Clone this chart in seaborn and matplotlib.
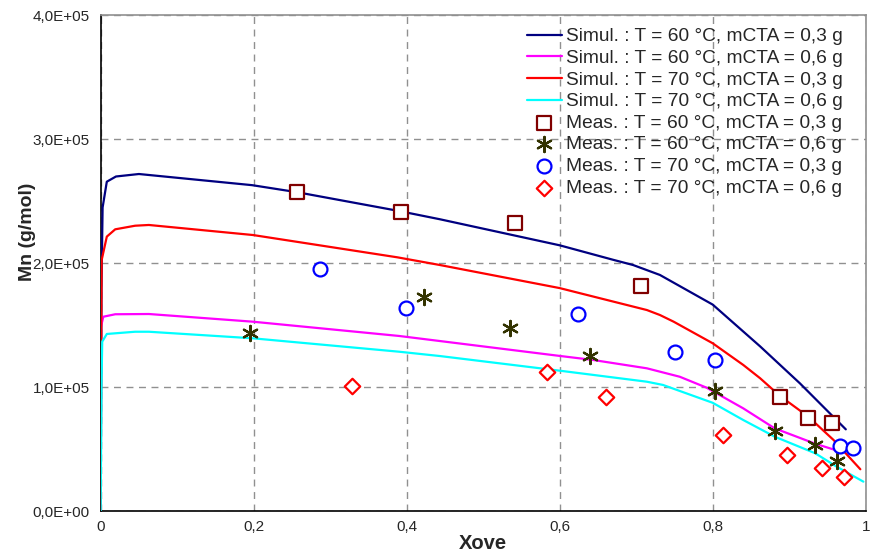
import matplotlib
matplotlib.use("Agg")
import matplotlib.pyplot as plt
import seaborn as sns
import pandas as pd
from matplotlib.ticker import FuncFormatter, FixedLocator

# ---------------- data ----------------
sim60_03_x = [0, 0.001, 0.0025, 0.008, 0.02, 0.05, 0.198, 0.257, 0.388, 0.4435, 0.6, 0.67, 0.696, 0.731, 0.8, 0.862, 0.914, 0.974]
sim60_03_y = [0, 1.8e5, 2.45e5, 2.658e5, 2.70e5, 2.72e5, 2.63e5, 2.573e5, 2.424e5, 2.355e5, 2.145e5, 2.028e5, 1.986e5, 1.906e5, 1.667e5, 1.33e5, 1.032e5, 0.661e5]

sim60_06_x = [0, 0.0004, 0.0034, 0.019, 0.063, 0.199, 0.39, 0.4435, 0.6, 0.644, 0.714, 0.757, 0.792, 0.84, 0.881, 0.934, 0.965]
sim60_06_y = [0, 1.489e5, 1.569e5, 1.589e5, 1.591e5, 1.529e5, 1.414e5, 1.373e5, 1.253e5, 1.22e5, 1.153e5, 1.085e5, 0.997e5, 0.83e5, 0.669e5, 0.545e5, 0.485e5]

sim70_03_x = [0, 0.0005, 0.0013, 0.008, 0.019, 0.045, 0.063, 0.199, 0.388, 0.4435, 0.6, 0.627, 0.714, 0.731, 0.749, 0.8, 0.84, 0.862, 0.888, 0.925, 0.958, 0.993]
sim70_03_y = [0, 1.2e5, 2.027e5, 2.215e5, 2.274e5, 2.303e5, 2.309e5, 2.228e5, 2.048e5, 1.986e5, 1.80e5, 1.758e5, 1.623e5, 1.583e5, 1.529e5, 1.355e5, 1.18e5, 1.073e5, 0.93e5, 0.763e5, 0.575e5, 0.339e5]

sim70_06_x = [0, 0.001, 0.002, 0.008, 0.045, 0.063, 0.199, 0.39, 0.4435, 0.6, 0.627, 0.714, 0.735, 0.8, 0.84, 0.881, 0.934, 0.962, 0.997]
sim70_06_y = [0, 1.0e5, 1.368e5, 1.43e5, 1.448e5, 1.448e5, 1.395e5, 1.287e5, 1.252e5, 1.134e5, 1.113e5, 1.045e5, 1.019e5, 0.875e5, 0.736e5, 0.602e5, 0.468e5, 0.36e5, 0.239e5]

meas60_03_x = [0.256, 0.392, 0.541, 0.706, 0.888, 0.925, 0.956]
meas60_03_y = [2.573e5, 2.414e5, 2.323e5, 1.819e5, 0.924e5, 0.752e5, 0.715e5]

meas60_06_x = [0.195, 0.423, 0.535, 0.639, 0.803, 0.881, 0.934, 0.962]
meas60_06_y = [1.440e5, 1.726e5, 1.478e5, 1.252e5, 0.968e5, 0.648e5, 0.535e5, 0.408e5]

meas70_03_x = [0.287, 0.399, 0.624, 0.751, 0.803, 0.967, 0.983]
meas70_03_y = [1.954e5, 1.640e5, 1.589e5, 1.282e5, 1.218e5, 0.527e5, 0.508e5]

meas70_06_x = [0.328, 0.583, 0.660, 0.813, 0.897, 0.943, 0.972]
meas70_06_y = [1.010e5, 1.126e5, 0.922e5, 0.615e5, 0.452e5, 0.347e5, 0.279e5]

sim_labels = ["Simul. : T = 60 °C, mCTA = 0,3 g",
              "Simul. : T = 60 °C, mCTA = 0,6 g",
              "Simul. : T = 70 °C, mCTA = 0,3 g",
              "Simul. : T = 70 °C, mCTA = 0,6 g"]
meas_labels = ["Meas. : T = 60 °C, mCTA = 0,3 g",
               "Meas. : T = 60 °C, mCTA = 0,6 g",
               "Meas. : T = 70 °C, mCTA = 0,3 g",
               "Meas. : T = 70 °C, mCTA = 0,6 g"]

x_ticks = [0, 0.2, 0.4, 0.6, 0.8, 1.0]
y_ticks = [0, 1e5, 2e5, 3e5, 4e5]

# ---------------- style ----------------
sns.set_theme(style="white")
plt.rcParams["font.family"] = ["Liberation Sans", "DejaVu Sans"]

fig = plt.figure(figsize=(8.71, 5.58), dpi=100)
ax = fig.add_axes([0.1156, 0.0837, 0.8783, 0.8889])

sim_series = [(sim60_03_x, sim60_03_y, "#000080"),
              (sim60_06_x, sim60_06_y, "#FF00FF"),
              (sim70_03_x, sim70_03_y, "#FF0000"),
              (sim70_06_x, sim70_06_y, "#00FFFF")]
for (xs, ys, c), lab in zip(sim_series, sim_labels):
    df = pd.DataFrame({"x": xs, "y": ys})
    sns.lineplot(data=df, x="x", y="y", ax=ax, color=c, lw=1.6,
                 sort=False, estimator=None, label=lab, zorder=3)

meas_series = [(meas60_03_x, meas60_03_y, "#800000", "s", 95, "white"),
               (meas60_06_x, meas60_06_y, "#333300", (6, 2, 0), 120, "#333300"),
               (meas70_03_x, meas70_03_y, "#0000FF", "o", 100, "white"),
               (meas70_06_x, meas70_06_y, "#FF0000", "D", 62, "white")]
for (xs, ys, c, m, s, fc), lab in zip(meas_series, meas_labels):
    df = pd.DataFrame({"x": xs, "y": ys})
    sns.scatterplot(data=df, x="x", y="y", ax=ax, marker=m, s=s,
                    facecolor=fc, edgecolor=c, linewidth=1.6,
                    label=lab, zorder=4)

ax.set_xlim(0, 1)
ax.set_ylim(0, 4e5)
ax.xaxis.set_major_locator(FixedLocator(x_ticks))
ax.yaxis.set_major_locator(FixedLocator(y_ticks))
ax.xaxis.set_major_formatter(FuncFormatter(lambda v, p: f"{v:g}".replace(".", ",")))
ax.yaxis.set_major_formatter(FuncFormatter(lambda v, p: f"{v:.1E}".replace(".", ",")))

ax.grid(True, linestyle=(0, (5, 4)), color="#909090", linewidth=1.0)
ax.set_axisbelow(True)

for side in ["left", "bottom"]:
    ax.spines[side].set_color("black")
    ax.spines[side].set_linewidth(1.2)
for side in ["top", "right"]:
    ax.spines[side].set_color("#909090")
    ax.spines[side].set_linewidth(1.2)

ax.tick_params(axis="both", length=0)
ax.tick_params(axis="y", pad=8, labelsize=11)
ax.tick_params(axis="x", pad=6, labelsize=11)

ax.set_xlabel("Xove", fontsize=14.5, fontweight="bold", labelpad=0)
ax.set_ylabel("Mn (g/mol)", fontsize=14, fontweight="bold")
ax.yaxis.set_label_coords(-0.084, 0.5625)

h, l = ax.get_legend_handles_labels()
ax.legend(h, l, loc="upper right", bbox_to_anchor=(0.98, 0.99), frameon=False,
          fontsize=13.8, handlelength=1.85, handletextpad=0.2,
          labelspacing=0.22, borderaxespad=0.0)

fig.savefig("out.png", dpi=100)
